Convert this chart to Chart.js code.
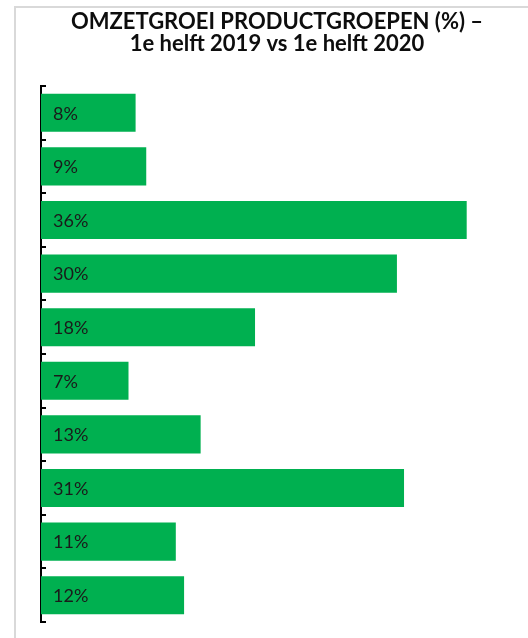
<!DOCTYPE html>
<html>
<head>
<meta charset="utf-8">
<script src="https://cdn.jsdelivr.net/npm/chart.js@4.4.1/dist/chart.umd.min.js"></script>
<style>
    html, body { margin: 0; padding: 0; background: #ffffff; }
    #frame {
        position: absolute;
        left: 14px;
        top: 6px;
        width: 560px;
        height: 680px;
        border-left: 2px solid #d9d9d9;
        border-top: 2px solid #d9d9d9;
    }
    #wrap { position: absolute; left: 0; top: 0; width: 528px; height: 638px; }
</style>
</head>
<body>
<div id="frame"></div>
<div id="wrap"><canvas id="growthChart"></canvas></div>

<script>
// --- Chart data ---
const titleLines = ["OMZETGROEI PRODUCTGROEPEN (%) \u2013", "1e helft 2019 vs 1e helft 2020"];
const groups = ["1", "2", "3", "4", "5", "6", "7", "8", "9", "10"];
const growthValues = [8.0, 8.9, 36.0, 30.1, 18.1, 7.4, 13.5, 30.7, 11.4, 12.1];
const growthLabels = ["8%", "9%", "36%", "30%", "18%", "7%", "13%", "31%", "11%", "12%"];
const axisMax = 40;

// Small tick marks between categories, drawn on the inside of the axis
const innerTicks = {
    id: "innerTicks",
    afterDraw(chart) {
        const scale = chart.scales.y;
        const ctx = chart.ctx;
        const step = (scale.bottom - scale.top) / groups.length;
        ctx.save();
        ctx.strokeStyle = "#000000";
        ctx.lineWidth = 2;
        for (let i = 0; i <= groups.length; i++) {
            const y = Math.round(scale.top + i * step);
            ctx.beginPath();
            ctx.moveTo(scale.right - 1, y);
            ctx.lineTo(scale.right + 5, y);
            ctx.stroke();
        }
        ctx.restore();
    }
};

// Value labels inside the bars, on the left
const barLabels = {
    id: "barLabels",
    afterDatasetsDraw(chart) {
        const ctx = chart.ctx;
        const meta = chart.getDatasetMeta(0);
        ctx.save();
        ctx.font = "18px Lato";
        ctx.fillStyle = "#1a1a1a";
        ctx.textBaseline = "middle";
        ctx.textAlign = "left";
        meta.data.forEach((bar, i) => {
            ctx.fillText(growthLabels[i], bar.base + 12, bar.y + 1);
        });
        ctx.restore();
    }
};

const ctx = document.getElementById("growthChart").getContext("2d");

new Chart(ctx, {
    type: "bar",
    data: {
        labels: groups,
        datasets: [{
            data: growthValues,
            backgroundColor: "#00b050",
            borderWidth: 0,
            categoryPercentage: 1.0,
            barPercentage: 0.71
        }]
    },
    options: {
        indexAxis: "y",
        responsive: true,
        maintainAspectRatio: false,
        animation: false,
        layout: {
            padding: { left: 40, right: 14, top: 0, bottom: 16 }
        },
        plugins: {
            legend: { display: false },
            tooltip: { enabled: false },
            title: {
                display: true,
                text: titleLines,
                color: "#0d0d0d",
                font: { family: "Lato", size: 22, weight: "bold", lineHeight: 1.0 },
                padding: { top: 11, bottom: 31 }
            }
        },
        scales: {
            x: {
                display: false,
                min: 0,
                max: axisMax
            },
            y: {
                display: true,
                grid: { display: false },
                ticks: { display: false },
                border: { display: true, color: "#000000", width: 2 },
                afterFit(scale) {
                    scale.width = 1;
                }
            }
        }
    },
    plugins: [innerTicks, barLabels]
});
</script>
</body>
</html>
